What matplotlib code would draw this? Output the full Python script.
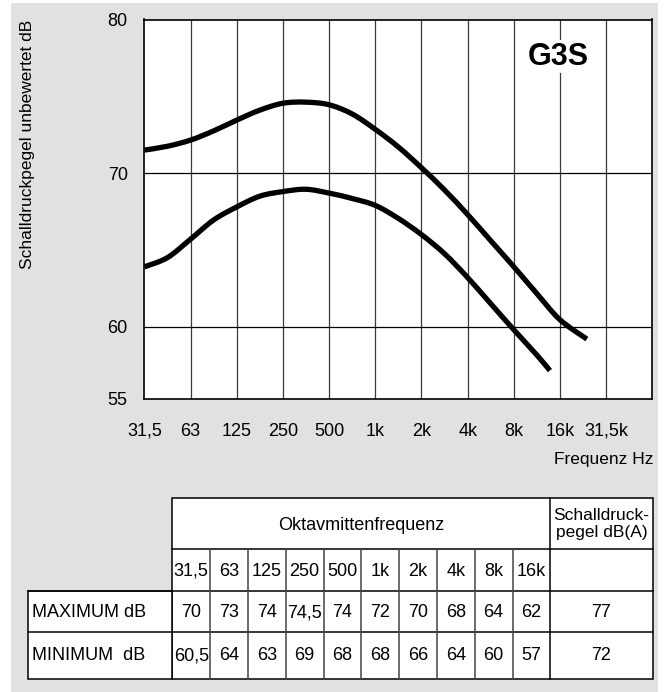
import matplotlib.pyplot as plt
from matplotlib.patches import Rectangle, PathPatch
from matplotlib.path import Path

plt.rcParams['font.family'] = ['Liberation Sans', 'DejaVu Sans']

# ---------------- data ----------------
octave_labels = ['31,5', '63', '125', '250', '500', '1k', '2k', '4k', '8k', '16k', '31,5k']

# curves (x = octave index counted from 31,5 Hz)
max_curve_pos = [0, 0.5, 1, 1.5, 2, 2.5, 3, 3.5, 4, 4.5, 5, 5.5, 6, 6.5, 7, 7.5, 8, 8.5, 9, 9.58]
max_curve_db = [71.5, 71.75, 72.15, 72.75, 73.45, 74.1, 74.55, 74.62, 74.45, 73.85, 72.85, 71.7, 70.35,
                68.9, 67.3, 65.6, 63.9, 62.15, 60.45, 59.2]
min_curve_pos = [0, 0.5, 1, 1.5, 2, 2.5, 3, 3.5, 4, 4.5, 5, 5.5, 6, 6.5, 7, 7.5, 8, 8.5, 8.78]
min_curve_db = [63.9, 64.5, 65.7, 66.95, 67.8, 68.5, 68.8, 68.95, 68.7, 68.35, 67.9, 67.05, 66.0,
                64.75, 63.2, 61.5, 59.8, 58.15, 57.15]

# table values
table_freqs = octave_labels[:10]
max_db_table = [70, 73, 74, 74.5, 74, 72, 70, 68, 64, 62]
min_db_table = [60.5, 64, 63, 69, 68, 68, 66, 64, 60, 57]
dba_max = 77
dba_min = 72


def de_num(v):
    return ('%g' % v).replace('.', ',')


def smooth_path(xs, ys):
    # Catmull-Rom through the read points, drawn as cubic Bezier segments
    pts = list(zip(xs, ys))
    n = len(pts)
    verts = [pts[0]]
    codes = [Path.MOVETO]
    for i in range(n - 1):
        p0 = pts[i - 1] if i > 0 else pts[i]
        p1 = pts[i]
        p2 = pts[i + 1]
        p3 = pts[i + 2] if i + 2 < n else pts[i + 1]
        c1 = (p1[0] + (p2[0] - p0[0]) / 6, p1[1] + (p2[1] - p0[1]) / 6)
        c2 = (p2[0] - (p3[0] - p1[0]) / 6, p2[1] - (p3[1] - p1[1]) / 6)
        verts += [c1, c2, p2]
        codes += [Path.CURVE4] * 3
    return Path(verts, codes)


# ---------------- figure ----------------
W, H = 664, 692
fig = plt.figure(figsize=(W / 100, H / 100), dpi=100, facecolor='white')
bg = Rectangle((11 / W, 0), (658 - 11) / W, 1 - 3 / H, transform=fig.transFigure,
               facecolor='#e1e1e1', edgecolor='none', zorder=-10)
fig.patches.append(bg)

# ---------------- chart ----------------
ax = fig.add_axes([144.3 / W, 1 - 399 / H, (652.5 - 144.3) / W, (399 - 19.5) / H])
ax.set_facecolor('white')
ax.set_xlim(0, 11)
ax.set_ylim(55.3, 80)
ax.set_xticks(range(len(octave_labels)))
ax.set_xticklabels(octave_labels, fontsize=13)
ax.set_yticks([55.3, 60, 70, 80])
ax.set_yticklabels(['55', '60', '70', '80'], fontsize=13)
ax.tick_params(axis='x', length=0, pad=17)
ax.tick_params(axis='y', length=0, pad=12)
for s in ax.spines.values():
    s.set_linewidth(1.2)
    s.set_color('black')

for i in range(1, 11):
    ax.axvline(i, color='#3a3a3a', lw=0.9, zorder=1)
for yv in (60, 70):
    ax.axhline(yv, color='black', lw=0.9, zorder=1)

for xs, ys in ((max_curve_pos, max_curve_db), (min_curve_pos, min_curve_db)):
    ax.add_patch(PathPatch(smooth_path(xs, ys), facecolor='none', edgecolor='black',
                           lw=3.8, capstyle='butt', joinstyle='round', zorder=3))

ax.text(0.8155, 0.902, 'G3S', transform=ax.transAxes, ha='center', va='center',
        fontsize=22, fontweight='bold', zorder=4,
        bbox=dict(facecolor='white', edgecolor='none', pad=1))

fig.text(28 / W, 1 - 144 / H, 'Schalldruckpegel unbewertet dB', rotation=90,
         ha='center', va='center', fontsize=12.5)
fig.text(653.7 / W, 1 - 459.3 / H, 'Frequenz Hz', ha='right', va='center', fontsize=12.5)

# ---------------- table ----------------
tax = fig.add_axes([0, 0, 1, 1])
tax.set_xlim(0, W)
tax.set_ylim(H, 0)
tax.axis('off')

lab_left, col0, col_w, right = 28.3, 172.3, 37.8, 652.7
col_end = col0 + col_w * len(table_freqs)
top, r_head, r_freq, r_max, bottom = 498.3, 549.3, 590.7, 632.3, 679.3
lw = 1.1

tax.add_patch(Rectangle((col0, top), right - col0, bottom - top, facecolor='white',
                        edgecolor='black', lw=lw))
tax.add_patch(Rectangle((lab_left, r_freq), col0 - lab_left, bottom - r_freq, facecolor='white',
                        edgecolor='black', lw=lw))
tax.plot([col0, right], [r_head, r_head], color='black', lw=lw)
tax.plot([lab_left, right], [r_freq, r_freq], color='black', lw=lw)
tax.plot([lab_left, right], [r_max, r_max], color='black', lw=lw)
for k in range(1, len(table_freqs)):
    x = col0 + k * col_w
    tax.plot([x, x], [r_head, bottom], color='#444444', lw=lw)
tax.plot([col_end, col_end], [top, bottom], color='black', lw=lw)

fs = 13
tax.text((col0 + col_end) / 2, (top + r_head) / 2 + 1.5, 'Oktavmittenfrequenz',
         ha='center', va='center', fontsize=fs)
tax.text((col_end + right) / 2, (top + r_head) / 2, 'Schalldruck-\npegel dB(A)',
         ha='center', va='center', fontsize=12.5, linespacing=1.2)

for k, f in enumerate(table_freqs):
    xc = col0 + (k + 0.5) * col_w
    tax.text(xc, (r_head + r_freq) / 2 + 1, f, ha='center', va='center', fontsize=fs)
    tax.text(xc, (r_freq + r_max) / 2 + 1, de_num(max_db_table[k]), ha='center', va='center', fontsize=fs)
    tax.text(xc, (r_max + bottom) / 2, de_num(min_db_table[k]), ha='center', va='center', fontsize=fs)

tax.text((col_end + right) / 2, (r_freq + r_max) / 2 + 1, de_num(dba_max), ha='center', va='center', fontsize=fs)
tax.text((col_end + right) / 2, (r_max + bottom) / 2, de_num(dba_min), ha='center', va='center', fontsize=fs)
tax.text(lab_left + 4, (r_freq + r_max) / 2 + 1, 'MAXIMUM dB', ha='left', va='center', fontsize=fs)
tax.text(lab_left + 4, (r_max + bottom) / 2, 'MINIMUM  dB', ha='left', va='center', fontsize=fs)

fig.savefig('out.png', dpi=100, facecolor='white')
